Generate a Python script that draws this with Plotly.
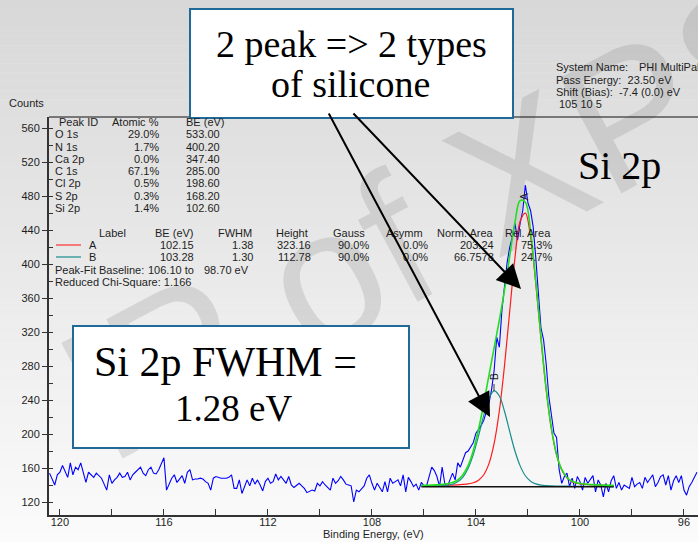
import plotly.graph_objects as go

# ---------------- data ----------------
energy = [
    120.4, 120.3, 120.2, 120.1, 120.0, 119.9, 119.8, 119.7, 119.6, 119.5,
    119.4, 119.3, 119.2, 119.1, 119.0, 118.9, 118.8, 118.7, 118.6, 118.5,
    118.4, 118.3, 118.2, 118.1, 118.0, 117.9, 117.8, 117.7, 117.6, 117.5,
    117.4, 117.3, 117.2, 117.1, 117.0, 116.9, 116.8, 116.7, 116.6, 116.5,
    116.4, 116.3, 116.2, 116.1, 116.0, 115.9, 115.8, 115.7, 115.6, 115.5,
    115.4, 115.3, 115.2, 115.1, 115.0, 114.9, 114.8, 114.7, 114.6, 114.5,
    114.4, 114.3, 114.2, 114.1, 114.0, 113.9, 113.8, 113.7, 113.6, 113.5,
    113.4, 113.3, 113.2, 113.1, 113.0, 112.9, 112.8, 112.7, 112.6, 112.5,
    112.4, 112.3, 112.2, 112.1, 112.0, 111.9, 111.8, 111.7, 111.6, 111.5,
    111.4, 111.3, 111.2, 111.1, 111.0, 110.9, 110.8, 110.7, 110.6, 110.5,
    110.4, 110.3, 110.2, 110.1, 110.0, 109.9, 109.8, 109.7, 109.6, 109.5,
    109.4, 109.3, 109.2, 109.1, 109.0, 108.9, 108.8, 108.7, 108.6, 108.5,
    108.4, 108.3, 108.2, 108.1, 108.0, 107.9, 107.8, 107.7, 107.6, 107.5,
    107.4, 107.3, 107.2, 107.1, 107.0, 106.9, 106.8, 106.7, 106.6, 106.5,
    106.4, 106.3, 106.2, 106.1, 106.0, 105.9, 105.8, 105.7, 105.6, 105.5,
    105.4, 105.3, 105.2, 105.1, 105.0, 104.9, 104.8, 104.7, 104.6, 104.5,
    104.4, 104.3, 104.2, 104.1, 104.0, 103.9, 103.8, 103.7, 103.6, 103.5,
    103.4, 103.3, 103.2, 103.1, 103.0, 102.9, 102.8, 102.7, 102.6, 102.5,
    102.4, 102.3, 102.2, 102.1, 102.0, 101.9, 101.8, 101.7, 101.6, 101.5,
    101.4, 101.3, 101.2, 101.1, 101.0, 100.9, 100.8, 100.7, 100.6, 100.5,
    100.4, 100.3, 100.2, 100.1, 100.0, 99.9, 99.8, 99.7, 99.6, 99.5,
    99.4, 99.3, 99.2, 99.1, 99.0, 98.9, 98.8, 98.7, 98.6, 98.5,
    98.4, 98.3, 98.2, 98.1, 98.0, 97.9, 97.8, 97.7, 97.6, 97.5,
    97.4, 97.3, 97.2, 97.1, 97.0, 96.9, 96.8, 96.7, 96.6, 96.5,
    96.4, 96.3, 96.2, 96.1, 96.0, 95.9, 95.8, 95.7, 95.6, 95.5,
]
counts = [
    154, 146, 140, 152, 155, 163, 155, 149, 166, 152,
    161, 158, 166, 154, 143, 155, 152, 149, 154, 151,
    148, 141, 134, 152, 142, 146, 149, 154, 149, 150,
    155, 146, 152, 155, 158, 161, 154, 151, 158, 161,
    154, 153, 158, 166, 172, 134, 141, 148, 152, 143,
    147, 151, 142, 155, 158, 146, 147, 147, 148, 147,
    144, 142, 134, 148, 150, 149, 148, 148, 148, 149,
    152, 136, 136, 146, 130, 138, 146, 139, 148, 141,
    146, 140, 133, 144, 148, 142, 144, 153, 146, 150,
    146, 142, 150, 140, 137, 140, 142, 139, 136, 131,
    133, 134, 133, 142, 139, 144, 140, 137, 134, 148,
    142, 145, 150, 146, 141, 140, 139, 120, 134, 132,
    136, 139, 148, 152, 142, 134, 142, 137, 132, 144,
    132, 148, 142, 144, 146, 139, 152, 132, 149, 144,
    138, 141, 134, 143, 139, 139, 150, 161, 157, 150,
    138, 161, 142, 138, 146, 154, 146, 166, 161, 170,
    178, 180, 185, 190, 201, 205, 210, 216, 225, 236,
    252, 275, 314, 302, 346, 372, 402, 420, 432, 448,
    428, 448, 463, 493, 472, 463, 444, 408, 361, 325,
    311, 283, 245, 220, 201, 196, 158, 142, 150, 154,
    138, 148, 136, 150, 144, 134, 149, 142, 146, 151,
    132, 146, 140, 126, 142, 132, 145, 151, 136, 143,
    134, 140, 138, 136, 149, 138, 141, 143, 136, 149,
    143, 147, 152, 138, 143, 150, 152, 140, 151, 134,
    145, 151, 143, 151, 134, 128, 138, 143, 149, 155,
]

fit_energy = [106.1, 105.9, 105.7, 105.5, 105.3, 105.1, 104.9, 104.7, 104.5, 104.3,
              104.1, 103.9, 103.7, 103.5, 103.3, 103.1, 102.9, 102.7, 102.5, 102.3,
              102.1, 101.9, 101.7, 101.5, 101.3, 101.1, 100.9, 100.7, 100.5, 100.3,
              100.1, 99.9, 99.7, 99.5, 99.3, 99.1, 98.9, 98.7]
peak_a = [139.0, 139.1, 139.2, 139.3, 139.5, 139.7, 139.9, 140.2, 140.7, 141.4,
          142.7, 145.7, 152.1, 165.2, 189.0, 227.4, 281.0, 345.0, 407.1, 450.3,
          459.9, 432.1, 377.3, 312.3, 252.4, 206.2, 175.4, 157.6, 148.3, 143.9,
          141.9, 141.0, 140.4, 140.1, 139.8, 139.6, 139.4, 139.2]
peak_b = [138.6, 138.7, 138.8, 138.9, 139.2, 139.7, 140.9, 143.7, 149.3, 159.7,
          176.0, 197.9, 222.0, 241.9, 250.7, 244.7, 226.5, 202.7, 180.0, 162.5,
          150.9, 144.5, 141.3, 139.9, 139.3, 139.0, 138.8, 138.7, 138.6, 138.5,
          138.5, 138.4, 138.4, 138.3, 138.3, 138.3, 138.2, 138.2]
envelope = [139.6, 139.7, 139.9, 140.2, 140.7, 141.4, 142.8, 145.9, 152.0, 163.1,
            180.7, 205.6, 236.1, 269.1, 301.7, 334.1, 369.5, 409.7, 449.1, 474.8,
            472.8, 438.6, 380.6, 314.2, 253.7, 207.2, 176.2, 158.3, 148.9, 144.4,
            142.4, 141.4, 140.8, 140.4, 140.1, 139.8, 139.6, 139.5]
baseline_energy = [106.1, 98.7]
baseline_counts = [138, 138]

x_tick_vals = [120, 116, 112, 108, 104, 100, 96]
y_tick_vals = [120, 160, 200, 240, 280, 320, 360, 400, 440, 480, 520, 560]

peak_ids = ["O 1s", "N 1s", "Ca 2p", "C 1s", "Cl 2p", "S 2p", "Si 2p"]
atomic_pct = ["29.0%", "1.7%", "0.0%", "67.1%", "0.5%", "0.3%", "1.4%"]
peak_be = ["533.00", "400.20", "347.40", "285.00", "198.60", "168.20", "102.60"]

fit_labels = ["A", "B"]
fit_be = ["102.15", "103.28"]
fit_fwhm = ["1.38", "1.30"]
fit_height = ["323.16", "112.78"]
fit_gauss = ["90.0%", "90.0%"]
fit_asymm = ["0.0%", "0.0%"]
fit_norm_area = ["203.24", "66.7578"]
fit_rel_area = ["75.3%", "24.7%"]

# ---------------- layout helpers ----------------
W_FIG, H_FIG = 698, 542
L, T, B = 49, 117, 515
PW, PH = W_FIG - L, B - T
SANS = "Liberation Sans, Arial, sans-serif"
SERIF = "Liberation Serif, Times New Roman, serif"
TXT = "#1e1e1e"
BLUEBOX = "#1f6a98"


def px(x):
    return (x - L) / PW


def py(y):
    return (B - y) / PH


annotations = []
shapes = []


def txt(x, y, s, anchor="left", size=11, color=TXT, family=SANS, angle=0):
    annotations.append(dict(x=px(x), y=py(y), xref="paper", yref="paper", text=s,
                            showarrow=False, xanchor=anchor, yanchor="middle",
                            textangle=angle, borderpad=0,
                            font=dict(size=size, color=color, family=family)))


# background gradient
N = 60
for i in range(N):
    y0 = i * H_FIG / N
    y1 = (i + 1) * H_FIG / N + 0.5
    c = int(round(216 + (251 - 216) * i / (N - 1)))
    shapes.append(dict(type="rect", xref="paper", yref="paper", layer="below",
                       x0=-0.1, x1=1.1, y0=py(y1), y1=py(y0),
                       line=dict(width=0), fillcolor=f"rgb({c},{c},{c})"))

# watermark
shapes.append(dict(type="rect", xref="paper", yref="paper", layer="below",
                   x0=px(420), x1=px(440), y0=py(210), y1=py(190),
                   line=dict(width=0), fillcolor="rgba(0,0,0,0)",
                   label=dict(text="IP of XPS", textangle=-28, textposition="middle center",
                              font=dict(size=190, color="rgba(110,110,110,0.19)", family=SANS))))

# top frame line
shapes.append(dict(type="line", xref="paper", yref="paper", x0=0, x1=1, y0=1, y1=1,
                   line=dict(color="#111111", width=1)))

# boxes
shapes.append(dict(type="rect", xref="paper", yref="paper", layer="above",
                   x0=px(190), x1=px(513), y0=py(118), y1=py(9),
                   line=dict(color=BLUEBOX, width=2), fillcolor="white"))
shapes.append(dict(type="rect", xref="paper", yref="paper", layer="above",
                   x0=px(73), x1=px(409), y0=py(448), y1=py(326),
                   line=dict(color=BLUEBOX, width=2), fillcolor="white"))

# legend swatches in fit table
shapes.append(dict(type="line", xref="paper", yref="paper", x0=px(56), x1=px(81),
                   y0=py(245), y1=py(245), line=dict(color="#ff3030", width=1.2)))
shapes.append(dict(type="line", xref="paper", yref="paper", x0=px(56), x1=px(81),
                   y0=py(257), y1=py(257), line=dict(color="#1a8c8c", width=1.2)))
# peak marker ticks
shapes.append(dict(type="line", xref="paper", yref="paper", x0=px(494), x1=px(494),
                   y0=py(391), y1=py(384), line=dict(color="#333333", width=1)))

# ---------------- texts ----------------
txt(8, 103, "Counts")

row_y = [134, 146.5, 158.5, 171, 183, 195.5, 208]
txt(58, 122, "Peak ID")
txt(160, 122, "Atomic %", anchor="right")
txt(185, 122, "BE (eV)")
for i, name in enumerate(peak_ids):
    txt(54, row_y[i], name)
    txt(160, row_y[i], atomic_pct[i], anchor="right")
    txt(185, row_y[i], peak_be[i])

txt(98, 233, "Label")
txt(195, 233, "BE (eV)", anchor="right")
txt(253, 233, "FWHM", anchor="right")
txt(309, 233, "Height", anchor="right")
txt(366, 233, "Gauss", anchor="right")
txt(424, 233, "Asymm", anchor="right")
txt(495, 233, "Norm. Area", anchor="right")
txt(552, 233, "Rel. Area", anchor="right")
fit_y = [245, 257]
for i in range(2):
    yy = fit_y[i]
    txt(88, yy, fit_labels[i])
    txt(195, yy, fit_be[i], anchor="right")
    txt(254, yy, fit_fwhm[i], anchor="right")
    txt(312, yy, fit_height[i], anchor="right")
    txt(370, yy, fit_gauss[i], anchor="right")
    txt(429, yy, fit_asymm[i], anchor="right")
    txt(495, yy, fit_norm_area[i], anchor="right")
    txt(553, yy, fit_rel_area[i], anchor="right")
txt(54, 270, "Peak-Fit Baseline:")
txt(195, 270, "106.10 to", anchor="right")
txt(203, 270, "98.70 eV")
txt(54, 282, "Reduced Chi-Square: 1.166")

txt(555, 67, "System Name:")
txt(638, 67, "PHI MultiPak")
txt(555, 80, "Pass Energy:  23.50 eV")
txt(555, 92, "Shift (Bias):  -7.4 (0.0) eV")
txt(558, 104, "105 10 5")

txt(619, 165, "Si 2p", anchor="center", size=40, color="#000000", family=SERIF)
txt(351, 44, "2 peak =&gt; 2 types", anchor="center", size=38, color="#000000", family=SERIF)
txt(350, 84, "of silicone", anchor="center", size=38, color="#000000", family=SERIF)
txt(225, 362, "Si 2p FWHM =", anchor="center", size=42, color="#000000", family=SERIF)
txt(233, 408, "1.28 eV", anchor="center", size=37, color="#000000", family=SERIF)

txt(524, 197, "A", anchor="center", size=10, angle=-90)
txt(494, 377, "B", anchor="center", size=10, angle=-90)

txt(373.5, 534, "Binding Energy, (eV)")
annotations[-1]["xanchor"] = "center"

# arrows
for head, tail in [((490, 417), (328, 112)), ((521, 289), (352, 112))]:
    annotations.append(dict(x=px(head[0]), y=py(head[1]), xref="paper", yref="paper",
                            ax=tail[0] - head[0], ay=tail[1] - head[1],
                            axref="pixel", ayref="pixel", text="", showarrow=True,
                            arrowhead=2, arrowsize=2.4, arrowwidth=2,
                            arrowcolor="black", standoff=0))

# ---------------- figure ----------------
fig = go.Figure()
fig.add_trace(go.Scatter(x=energy, y=counts, mode="lines",
                         line=dict(color="#0000ff", width=1.1), hoverinfo="skip"))
fig.add_trace(go.Scatter(x=fit_energy, y=peak_a, mode="lines",
                         line=dict(color="#ff1a1a", width=1.2, shape="spline"), hoverinfo="skip"))
fig.add_trace(go.Scatter(x=fit_energy, y=peak_b, mode="lines",
                         line=dict(color="#1a8c8c", width=1.2, shape="spline"), hoverinfo="skip"))
fig.add_trace(go.Scatter(x=baseline_energy, y=baseline_counts, mode="lines",
                         line=dict(color="#111111", width=1.6), hoverinfo="skip"))
fig.add_trace(go.Scatter(x=fit_energy, y=envelope, mode="lines",
                         line=dict(color="#22dd22", width=1.6, shape="spline"), hoverinfo="skip"))

fig.update_layout(
    width=W_FIG, height=H_FIG,
    margin=dict(l=L, r=0, t=T, b=H_FIG - B, pad=0),
    paper_bgcolor="white", plot_bgcolor="rgba(0,0,0,0)",
    showlegend=False,
    shapes=shapes, annotations=annotations,
    font=dict(family=SANS, size=11, color=TXT),
    xaxis=dict(range=[120.42, 95.46], tickmode="array", tickvals=x_tick_vals,
               ticktext=[str(v) for v in x_tick_vals],
               ticks="inside", ticklen=6, tickwidth=1, tickcolor="#333333",
               minor=dict(dtick=2, tick0=96, ticks="inside", ticklen=6, tickwidth=1,
                          tickcolor="#333333"),
               showline=True, linecolor="#333333", linewidth=2,
               showgrid=False, zeroline=False,
               tickfont=dict(size=11, color=TXT, family=SANS)),
    yaxis=dict(range=[104.7, 573], tickmode="array", tickvals=y_tick_vals,
               ticktext=[str(v) for v in y_tick_vals],
               ticks="outside", ticklen=5, tickwidth=1, tickcolor="#333333",
               minor=dict(dtick=20, tick0=120, ticks="inside", ticklen=4, tickwidth=1,
                          tickcolor="#333333"),
               showline=True, linecolor="#333333", linewidth=2,
               showgrid=False, zeroline=False,
               tickfont=dict(size=11, color=TXT, family=SANS)),
)

try:
    fig.update_xaxes(ticklabelstandoff=-4)
except Exception:
    pass

fig.write_html("out.html",
               config={"displayModeBar": False},
               post_script="document.body.style.margin='0';document.body.style.overflow='hidden';")
